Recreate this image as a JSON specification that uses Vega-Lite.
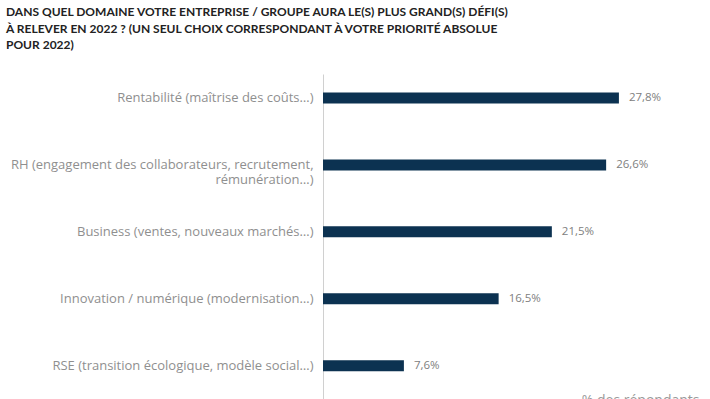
{
  "$schema": "https://vega.github.io/schema/vega-lite/v6.json",
  "autosize": "none",
  "width": 380,
  "height": 329,
  "padding": {"left": 323, "top": 74, "right": 7, "bottom": 0},
  "background": "white",
  "title": {
    "text": ["DANS QUEL DOMAINE VOTRE ENTREPRISE / GROUPE AURA LE(S) PLUS GRAND(S) DÉFI(S)", "À RELEVER EN 2022 ? (UN SEUL CHOIX CORRESPONDANT À VOTRE PRIORITÉ ABSOLUE", "POUR 2022)"],
    "anchor": "start",
    "frame": "group",
    "dx": -317,
    "dy": 0,
    "offset": 22,
    "font": "Lato",
    "fontSize": 12,
    "fontWeight": "bold",
    "color": "#222222",
    "lineHeight": 16.5
  },
  "config": {
    "view": {"stroke": null},
    "locale": {"number": {"decimal": ",", "thousands": " ", "grouping": [3], "currency": ["", " €"]}}
  },
  "data": {
    "values": [
      {"categorie": "Rentabilité (maîtrise des coûts…)", "part": 0.278},
      {"categorie": "RH (engagement des collaborateurs, recrutement, rémunération…)", "part": 0.266},
      {"categorie": "Business (ventes, nouveaux marchés…)", "part": 0.215},
      {"categorie": "Innovation / numérique (modernisation…)", "part": 0.165},
      {"categorie": "RSE (transition écologique, modèle social…)", "part": 0.076}
    ]
  },
  "encoding": {
    "y": {
      "field": "categorie",
      "type": "nominal",
      "sort": null,
      "scale": {"paddingInner": 0.284, "paddingOuter": 0.1, "align": 0},
      "axis": {
        "title": null,
        "ticks": false,
        "domain": true,
        "domainColor": "#d0d0d0",
        "domainWidth": 1,
        "labelFont": "Open Sans",
        "labelFontSize": 13,
        "labelColor": "#8f8f8f",
        "labelPadding": 10,
        "labelLimit": 400,
        "labelLineHeight": 15.5,
        "labelExpr": "indexof(datum.value, 'RH') == 0 ? ['RH (engagement des collaborateurs, recrutement,', 'rémunération…)'] : datum.label"
      }
    },
    "x": {
      "field": "part",
      "type": "quantitative",
      "scale": {"domain": [0, 0.357], "nice": false},
      "axis": {
        "title": "% des répondants",
        "domain": false,
        "ticks": false,
        "labels": false,
        "grid": false,
        "titleFont": "Open Sans",
        "titleFontSize": 14,
        "titleFontWeight": "normal",
        "titleColor": "#999999",
        "titleAlign": "right",
        "titleAnchor": null,
        "titleX": 376,
        "titleY": -10,
        "titleBaseline": "top"
      }
    }
  },
  "layer": [
    {"mark": {"type": "bar", "size": 11, "color": "#0c3251"}},
    {
      "mark": {"type": "text", "align": "left", "baseline": "middle", "dx": 10, "font": "Open Sans", "fontSize": 11.5, "color": "#808080"},
      "encoding": {"text": {"field": "part", "type": "quantitative", "format": ".1%"}}
    }
  ]
}
